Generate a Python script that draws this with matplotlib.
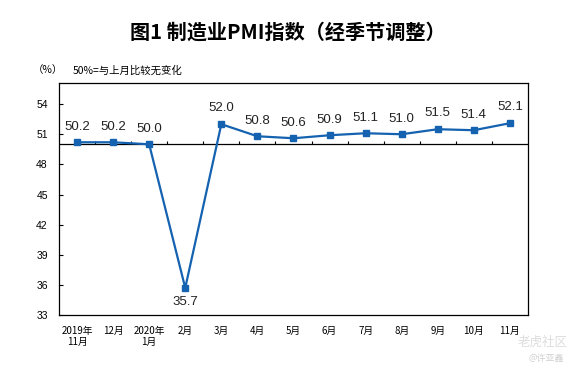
import numpy as np
import matplotlib.pyplot as plt

plt.rcParams['font.family'] = ['Liberation Sans', 'Noto Sans CJK SC', 'DejaVu Sans']

# ── data ──────────────────────────────────────────────────────────────────────
months = ["2019年\n11月", "12月", "2020年\n1月", "2月", "3月", "4月", "5月",
          "6月", "7月", "8月", "9月", "10月", "11月"]
pmi = [50.2, 50.2, 50.0, 35.7, 52.0, 50.8, 50.6, 50.9, 51.1, 51.0, 51.5, 51.4, 52.1]
yticks = [33, 36, 39, 42, 45, 48, 51, 54]
baseline = 50

cjk = ['Noto Sans CJK SC', 'DejaVu Sans']
blue = "#1462b0"

fig = plt.figure(figsize=(5.72, 3.69), dpi=100)
ax = fig.add_axes([0.1031, 0.1463, 0.8199, 0.6287])

x = np.arange(len(pmi))
ax.plot(x, pmi, color=blue, lw=1.6, marker="s", ms=4, zorder=3)

for xi, v in zip(x, pmi):
    if v < baseline:
        ax.annotate(f"{v:.1f}", (xi, v), xytext=(0, -6), textcoords="offset points",
                    ha="center", va="top", fontsize=9.5, color="#222222")
    else:
        ax.annotate(f"{v:.1f}", (xi, v), xytext=(0, 7), textcoords="offset points",
                    ha="center", va="bottom", fontsize=9.5, color="#222222")

# category axis crossing at 50, with small upward ticks between categories
ax.axhline(baseline, color="black", lw=0.9, zorder=2)
ax.vlines(x[:-1] + 0.5, baseline, baseline + 0.3, color="black", lw=0.8, zorder=2)

ax.set_xlim(-0.5, len(pmi) - 0.5)
ax.set_ylim(33, 56.1)
ax.set_yticks(yticks)
ax.tick_params(axis="y", direction="in", length=3, labelsize=7.5, pad=8)
ax.set_xticks(x)
ax.set_xticklabels(months, fontsize=7, family=cjk, linespacing=1.1, va="top")
ax.tick_params(axis="x", length=0, pad=8)
for s in ax.spines.values():
    s.set_linewidth(0.9)

fig.text(0.503, 0.913, "图1 制造业PMI指数（经季节调整）", ha="center", va="center",
         fontsize=14.5, fontweight="bold", family=cjk)
fig.text(0.058, 0.81, "（%）", ha="left", va="center", fontsize=7.5, family=cjk)
fig.text(0.128, 0.81, "50%=与上月比较无变化", ha="left", va="center", fontsize=7.5, family=cjk)

# watermark
fig.text(0.948, 0.072, "老虎社区", ha="center", va="center", fontsize=9,
         family=cjk, color="#dddddd")
fig.text(0.955, 0.028, "@许亚鑫", ha="center", va="center", fontsize=6.5,
         family=cjk, color="#d0d0d0")

fig.savefig("out.png", dpi=100)
